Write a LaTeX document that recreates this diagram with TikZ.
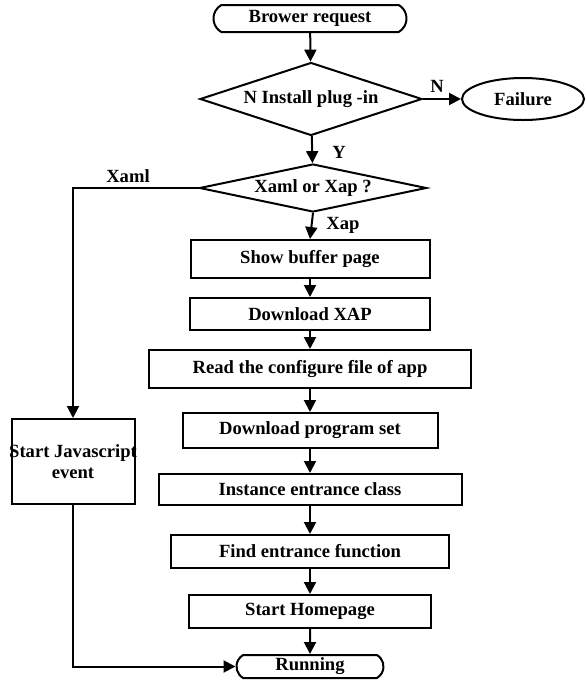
\documentclass[tikz,border=0pt]{standalone}
\usepackage{fontspec}
\setmainfont{Liberation Serif}
\usetikzlibrary{positioning}
\usetikzlibrary{shapes.geometric}
\usetikzlibrary{shapes.misc}
\usetikzlibrary{arrows.meta}

\begin{document}
\begin{tikzpicture}[x=1pt,y=-1pt,
      font=\fontsize{18.6}{21}\selectfont\bfseries,
      flow/.style={-{Triangle[length=12pt,width=12pt]},line width=2pt},
      box/.style={rectangle,draw,line width=2pt,inner sep=0pt},
      term/.style={rounded rectangle,rounded rectangle arc length=120,draw,line width=2pt,inner sep=0pt},
      decision/.style={diamond,draw,line width=2pt,inner sep=0pt},
      lbl/.style={inner sep=1pt},
  ]
  \useasboundingbox (0,0) rectangle (586,681);

  % start and plug-in check
  \node[term,minimum width=193,minimum height=27] (req) at (310,18.5) {Brower request};
  \node[decision,aspect=3,minimum width=222,minimum height=73] (plugin) at (311,99) {N Install plug -in};
  \node[ellipse,draw,line width=2pt,inner sep=0pt,minimum width=122,minimum height=42] (fail) at (523,99) {Failure};
  \node[decision,aspect=4.8,minimum width=227,minimum height=48] (kind) at (313,188) {Xaml or Xap ?};

  % Xap branch
  \node[box,minimum width=239,minimum height=38] (buffer) at (310,259) {Show buffer page};
  \node[box,minimum width=240,minimum height=32] (xap) at (310,314) {Download XAP};
  \node[box,minimum width=322,minimum height=38] (config) at (310,369) {Read the configure file of app};
  \node[box,minimum width=255,minimum height=35] (progset) at (310,430.5) {Download program set};
  \node[box,minimum width=303,minimum height=31] (entclass) at (310,489.5) {Instance entrance class};
  \node[box,minimum width=278,minimum height=33] (entfunc) at (310,551.5) {Find entrance function};
  \node[box,minimum width=242,minimum height=33] (home) at (310,611.5) {Start Homepage};
  \node[term,minimum width=147,minimum height=23] (run) at (310,666.5) {Running};

  % Xaml branch
  \node[box,minimum width=123,minimum height=85,align=center] (js) at (73,461.5) {\makebox[116pt][c]{Start Javascript}\\event};

  % labels
  \node[lbl] (lN) at (437,86) {N};
  \node[lbl] (lY) at (339,152) {Y};
  \node[lbl] (lXap) at (343,225) {Xap};
  \node[lbl] (lXaml) at (128,176) {Xaml};

  % connectors
  \draw[flow] (req) -- (plugin);
  \draw[flow] (plugin) -- (fail);
  \draw[flow] (plugin) -- (kind);
  \draw[flow] (kind.south) -- (buffer.north);
  \draw[flow] (buffer) -- (xap);
  \draw[flow] (xap) -- (config);
  \draw[flow] (config) -- (progset);
  \draw[flow] (progset) -- (entclass);
  \draw[flow] (entclass) -- (entfunc);
  \draw[flow] (entfunc) -- (home);
  \draw[flow] (home) -- (run);
  \draw[flow] (kind.west) -| (js.north);
  \draw[flow] (js.south) |- (run.west);
\end{tikzpicture}
\end{document}
